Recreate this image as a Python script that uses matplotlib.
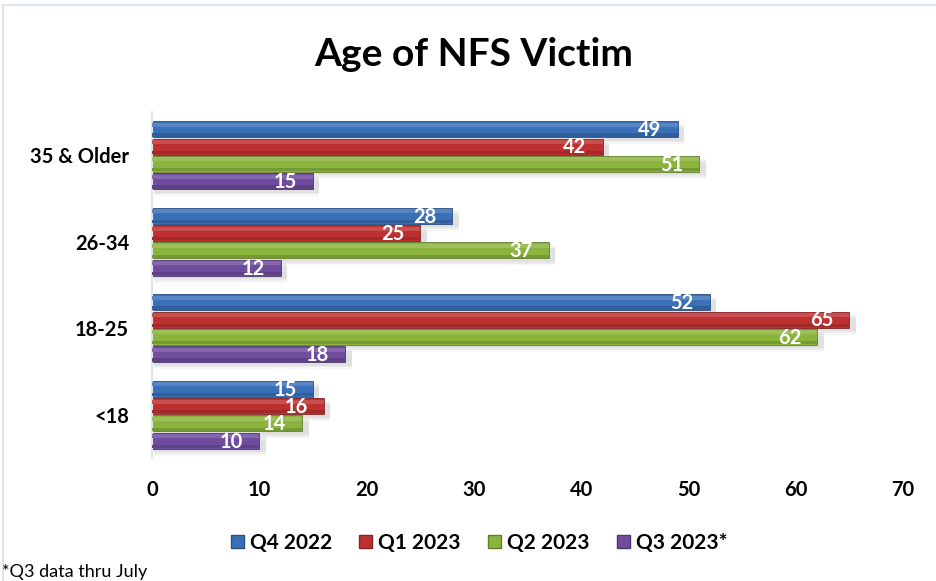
import matplotlib
matplotlib.use("Agg")
import matplotlib.pyplot as plt
from matplotlib.lines import Line2D
from matplotlib.patches import Patch
import numpy as np

categories = ["<18", "18-25", "26-34", "35 & Older"]
series_names = ["Q4 2022", "Q1 2023", "Q2 2023", "Q3 2023*"]
q4_2022 = [15, 52, 28, 49]
q1_2023 = [16, 65, 25, 42]
q2_2023 = [14, 62, 37, 51]
q3_2023 = [10, 18, 12, 15]
x_ticks = [0, 10, 20, 30, 40, 50, 60, 70]

series_values = [q4_2022, q1_2023, q2_2023, q3_2023]
colors = ["#3A70B8", "#BE3030", "#8AB43C", "#6F4C9E"]
font = ["Lato", "DejaVu Sans"]

fig = plt.figure(figsize=(9.36, 5.81), dpi=100)
ax = fig.add_axes([152/936, 1-458/581, (903-152)/936, (458-112)/581])

def lighten(c, f):
    r, g, b = matplotlib.colors.to_rgb(c)
    return (r + (1-r)*f, g + (1-g)*f, b + (1-b)*f)

def darken(c, f):
    r, g, b = matplotlib.colors.to_rgb(c)
    return (r*(1-f), g*(1-f), b*(1-f))

slot = 0.2
h = 0.185
y = np.arange(len(categories))
offsets = [1.5*slot, 0.5*slot, -0.5*slot, -1.5*slot]
for vals, col, off in zip(series_values, colors, offsets):
    ys = y + off
    # soft shadow
    for k, a in zip([0.08, 0.06, 0.04], [0.06, 0.08, 0.10]):
        ax.barh(ys - k, np.array(vals) + 0.4, height=h, left=0.2, color="#777777",
                alpha=a, zorder=1, linewidth=0)
    # base
    ax.barh(ys, vals, height=h, color=col, zorder=2, linewidth=0.6,
            edgecolor=darken(col, 0.3))
    # highlight top strip
    ax.barh(ys + h*0.28, vals, height=h*0.24, color=lighten(col, 0.15), zorder=3, linewidth=0)
    # darker bottom strip
    ax.barh(ys - h*0.36, vals, height=h*0.2, color=darken(col, 0.15), zorder=3, linewidth=0)
    for yy, v in zip(ys, vals):
        ax.text(v - 1.5, yy - 0.01, str(v), ha="right", va="center", color="white",
                fontsize=14.5, fontweight="bold", family=font, zorder=5)

ax.set_xlim(0, 70)
ax.set_ylim(-0.5, 3.5)
ax.set_xticks(x_ticks)
ax.set_xticklabels([str(t) for t in x_ticks], fontsize=14.5, fontweight="bold", family=font)
ax.set_yticks(y)
ax.set_yticklabels(categories, fontsize=14.5, fontweight="bold", family=font)
ax.tick_params(length=0, pad=16.5, axis="y")
ax.tick_params(length=0, pad=16, axis="x")
for s in ["top", "right", "bottom"]:
    ax.spines[s].set_visible(False)
ax.spines["left"].set_color("#DCE6F0")
ax.spines["left"].set_linewidth(1.5)

fig.text(474/936, 1-55/581, "Age of NFS Victim", ha="center", va="center",
         fontsize=28, fontweight="bold", family=font)

handles = [Patch(facecolor=c, edgecolor=darken(c, 0.3)) for c in colors]
leg = fig.legend(handles, series_names, loc="center", bbox_to_anchor=(479/936, 1-543/581),
                 ncol=4, frameon=False, prop={"family": font, "weight": "bold", "size": 15},
                 handlelength=0.62, handleheight=0.62, handletextpad=0.3, columnspacing=1.3)

fig.text(2/936, 1-572/581, "*Q3 data thru July", ha="left", va="center",
         fontsize=13, family=font)

fig.add_artist(Line2D([3/936, 1], [1-5/581, 1-5/581], color="#D5E2EF", linewidth=1.2))
fig.add_artist(Line2D([3/936, 3/936], [0, 1-5/581], color="#D5E2EF", linewidth=1.2))

fig.savefig("out.png", dpi=100)
